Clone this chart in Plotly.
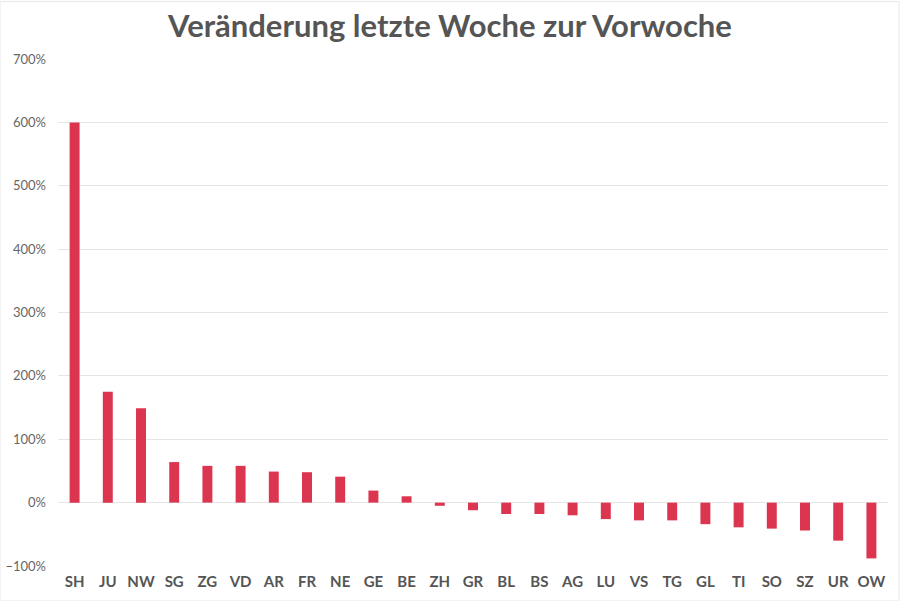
import plotly.graph_objects as go

cantons = ["SH", "JU", "NW", "SG", "ZG", "VD", "AR", "FR", "NE", "GE", "BE", "ZH", "GR",
           "BL", "BS", "AG", "LU", "VS", "TG", "GL", "TI", "SO", "SZ", "UR", "OW"]
change_pct = [600, 175, 149, 64, 58, 58, 49, 48, 41, 19, 10, -5, -12,
              -18, -18, -20, -26, -28, -28, -34, -39, -41, -44, -60, -88]

fig = go.Figure()
fig.add_trace(go.Bar(
    x=cantons, y=change_pct,
    marker=dict(color="#dc3550", line=dict(width=0)),
))

fig.update_layout(
    width=900, height=601,
    paper_bgcolor="white", plot_bgcolor="white",
    margin=dict(l=58, r=12, t=59, b=35),
    bargap=0.7,
    showlegend=False,
    title=dict(text="<b>Veränderung letzte Woche zur Vorwoche</b>",
               x=0.5, xanchor="center", y=0.957, yanchor="middle",
               font=dict(family="Lato", size=31, color="#555555")),
    font=dict(family="Lato"),
)
fig.update_xaxes(
    showgrid=False, showline=False, ticks="", automargin=False,
    ticklabelstandoff=5,
    tickfont=dict(family="Lato", size=15, color="#555555", weight="bold"),
)
fig.update_yaxes(
    range=[-100, 700], dtick=100, ticksuffix="%", automargin=False,
    showgrid=True, gridcolor="#e6e6e6", gridwidth=1,
    zeroline=True, zerolinecolor="#e6e6e6", zerolinewidth=1,
    showline=False, ticks="",
    ticklabelstandoff=11,
    tickfont=dict(family="Lato", size=13, color="#666666"),
)
fig.add_shape(type="rect", xref="paper", yref="paper",
              x0=-58/830, x1=1+11/830, y0=-35/507, y1=1+59/507 - 0.003,
              line=dict(color="#e8e8e8", width=1), fillcolor="rgba(0,0,0,0)")

fig.write_html("out.html")
